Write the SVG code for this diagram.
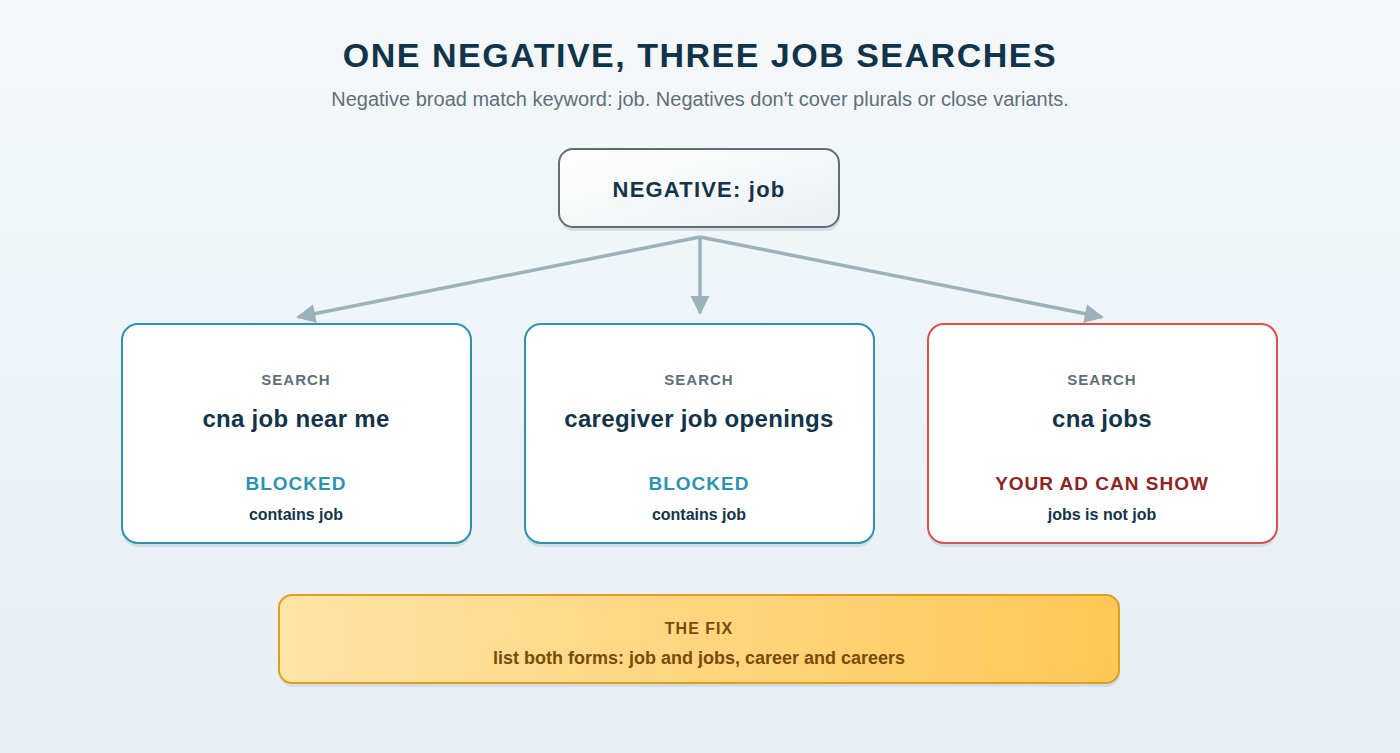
<svg xmlns="http://www.w3.org/2000/svg" width="1400" height="753" viewBox="0 0 1400 753">
<defs>
<linearGradient id="bg" x1="0" y1="0" x2="0" y2="1"><stop offset="0" stop-color="#f4f8fa"/><stop offset="1" stop-color="#e7eff5"/></linearGradient>
<linearGradient id="neg" x1="0" y1="0" x2="1" y2="1"><stop offset="0" stop-color="#ffffff"/><stop offset="1" stop-color="#eceff1"/></linearGradient>
<linearGradient id="fix" x1="0" y1="0" x2="1" y2="0"><stop offset="0" stop-color="#ffe4a6"/><stop offset="1" stop-color="#ffc857"/></linearGradient>
<marker id="ah" viewBox="0 0 10 10" refX="9" refY="5" markerWidth="5.5" markerHeight="5.5" orient="auto" markerUnits="strokeWidth"><path d="M0,0 L10,5 L0,10 z" fill="#9cb2bb"/></marker>
<style>
text{font-family:"Liberation Sans",Arial,sans-serif;text-anchor:middle;font-weight:bold}
.card{fill:#fff;stroke-width:2}
.lbl{font-size:15px;fill:#5f6f78;letter-spacing:1px}
.q{font-size:24px;fill:#12344a;letter-spacing:0.3px}
.st{font-size:19px;letter-spacing:1px}
.sub{font-size:16px;fill:#12344a}
.sh{fill:#d3dfe6}
</style>
</defs>
<rect width="1400" height="753" fill="url(#bg)"/>
<text x="700" y="67" font-size="34" fill="#12344a" letter-spacing="1.5">ONE NEGATIVE, THREE JOB SEARCHES</text>
<text x="700" y="106" font-size="20" fill="#5f6f78" style="font-weight:normal">Negative broad match keyword: job. Negatives don't cover plurals or close variants.</text>
<g id="connectors" fill="none" stroke="#9cb2bb" stroke-width="3.5">
<path d="M700,237 L298,317" marker-end="url(#ah)"/>
<path d="M700,237 L700,313" marker-end="url(#ah)"/>
<path d="M700,237 L1102,317" marker-end="url(#ah)"/>
</g>
<g id="negative">
<rect x="560" y="153" width="280" height="78" rx="14" class="sh"/>
<rect x="559" y="149" width="280" height="78" rx="14" fill="url(#neg)" stroke="#5f6f78" stroke-width="2"/>
<text x="699" y="197" font-size="22" fill="#12344a" letter-spacing="1.2">NEGATIVE: job</text>
</g>
<g id="s1">
<rect x="122" y="328" width="349" height="219" rx="16" class="sh"/>
<rect x="122" y="324" width="349" height="219" rx="16" class="card" stroke="#2b93b0"/>
<text x="296" y="385" class="lbl">SEARCH</text>
<text x="296" y="427" class="q">cna job near me</text>
<text x="296" y="490" class="st" fill="#2b93b0">BLOCKED</text>
<text x="296" y="520" class="sub">contains job</text>
</g>
<g id="s2">
<rect x="525" y="328" width="349" height="219" rx="16" class="sh"/>
<rect x="525" y="324" width="349" height="219" rx="16" class="card" stroke="#2b93b0"/>
<text x="699" y="385" class="lbl">SEARCH</text>
<text x="699" y="427" class="q">caregiver job openings</text>
<text x="699" y="490" class="st" fill="#2b93b0">BLOCKED</text>
<text x="699" y="520" class="sub">contains job</text>
</g>
<g id="s3">
<rect x="928" y="328" width="349" height="219" rx="16" class="sh"/>
<rect x="928" y="324" width="349" height="219" rx="16" class="card" stroke="#dc4f4f"/>
<text x="1102" y="385" class="lbl">SEARCH</text>
<text x="1102" y="427" class="q">cna jobs</text>
<text x="1102" y="490" class="st" fill="#8e2424">YOUR AD CAN SHOW</text>
<text x="1102" y="520" class="sub">jobs is not job</text>
</g>
<g id="fix">
<rect x="280" y="599" width="840" height="88" rx="13" class="sh"/>
<rect x="279" y="595" width="840" height="88" rx="13" fill="url(#fix)" stroke="#e39b22" stroke-width="2"/>
<text x="699" y="634" font-size="16" fill="#7a4a0a" letter-spacing="1">THE FIX</text>
<text x="699" y="664" font-size="18" fill="#7a4a0a">list both forms: job and jobs, career and careers</text>
</g>
</svg>
